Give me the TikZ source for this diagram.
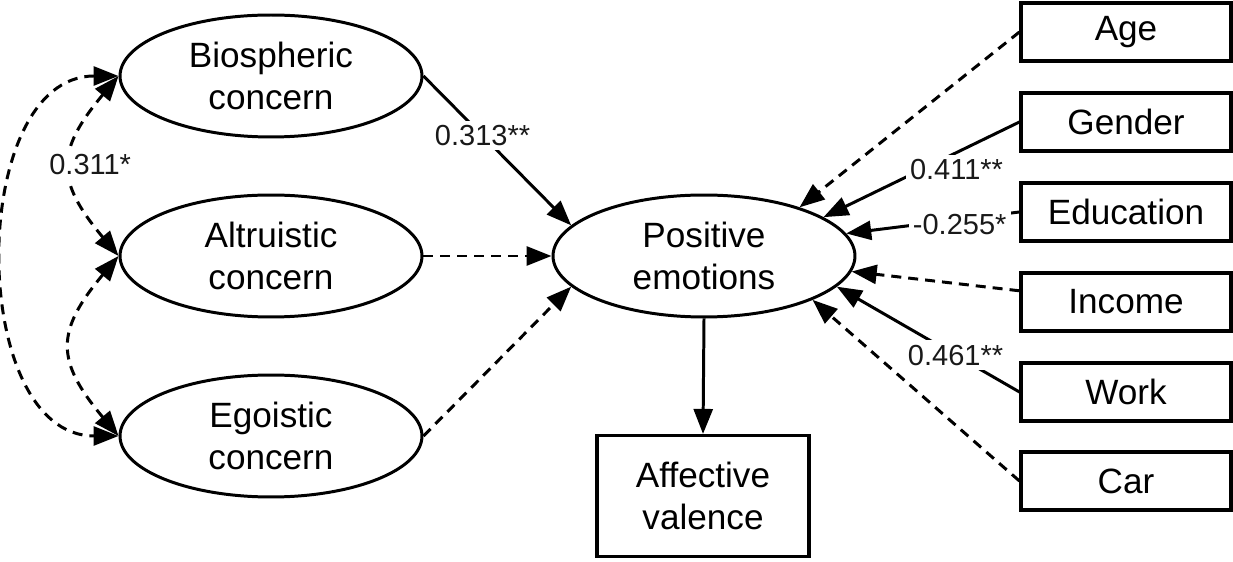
\documentclass[tikz,border=0pt]{standalone}
\usepackage{fontspec}
\setmainfont{Liberation Sans}
\usepackage{tikz}
\usetikzlibrary{shapes.geometric}
\usetikzlibrary{arrows.meta}

\tikzset{
    latent/.style={draw, ellipse, line width=1.7pt, minimum width=6.04cm, minimum height=2.44cm,
        inner sep=0pt, align=center, font=\fontsize{20}{24}\selectfont},
    observed/.style={draw, rectangle, line width=1.8pt, minimum width=4.2cm, minimum height=1.16cm,
        inner sep=0pt, align=center, font=\fontsize{20}{24}\selectfont},
    outcome/.style={observed, minimum width=4.24cm, minimum height=2.42cm},
    path/.style={line width=1.7pt, ->},
    dpath/.style={path, dash pattern=on 2mm off 1.4mm},
    lbl/.style={fill=white, inner sep=2.5pt, text=black!90, font=\fontsize{16.5}{20}\selectfont},
    >={Triangle[length=5mm, width=3.8mm]}
}

\begin{document}
\begin{tikzpicture}[x=0.02cm, y=0.02cm]
        \useasboundingbox (0,0) rectangle (1233,561);

        % concerns
        \node[latent] (bio) at (271,485) {Biospheric\\concern};
        \node[latent] (alt) at (271,305) {Altruistic\\concern};
        \node[latent] (ego) at (271,125) {Egoistic\\concern};

        % mediator and outcome
        \node[latent] (posemo) at (704,305) {Positive\\emotions};
        \node[outcome] (aff) at (703,65) {Affective\\valence};

        % controls
        \node[observed] (age) at (1126,529) {Age};
        \node[observed] (gender) at (1126,439) {Gender};
        \node[observed] (edu) at (1126,349) {Education};
        \node[observed] (income) at (1126,259) {Income};
        \node[observed] (work) at (1126,169) {Work};
        \node[observed] (car) at (1126,80) {Car};

        % covariances
        \draw[dpath, <->] (bio.west) to[out=180, in=180, looseness=1.08] (ego.west);
        \draw[dpath, <->] (bio.west) to[out=230, in=130, looseness=1.4]
            node[lbl, pos=0.5, shift={(19,1)}] {0.311*} (alt.west);
        \draw[dpath, <->] (alt.west) to[out=230, in=130, looseness=1.4] (ego.west);

        % left paths
        \draw[path] (bio.east) -- node[lbl, pos=0.4] {0.313**} (posemo.167);
        \draw[dpath] (alt.east) -- (posemo.west);
        \draw[dpath] (ego.east) -- (posemo.193);
        \draw[path] (posemo.south) -- (aff.north);

        % right paths
        \draw[dpath] (age.west) -- (posemo.27);
        \draw[path] (gender.west) -- node[lbl, pos=0.357, shift={(7,-14)}] {0.411**} (posemo.18);
        \draw[path] (edu.west) -- node[lbl, pos=0.345, shift={(0,-5)}] {-0.255*} (posemo.9);
        \draw[dpath] (income.174) -- (posemo.354);
        \draw[path] (work.west) -- node[lbl, pos=0.35] {0.461**} (posemo.347);
        \draw[dpath] (car.west) -- (posemo.338);
\end{tikzpicture}
\end{document}
